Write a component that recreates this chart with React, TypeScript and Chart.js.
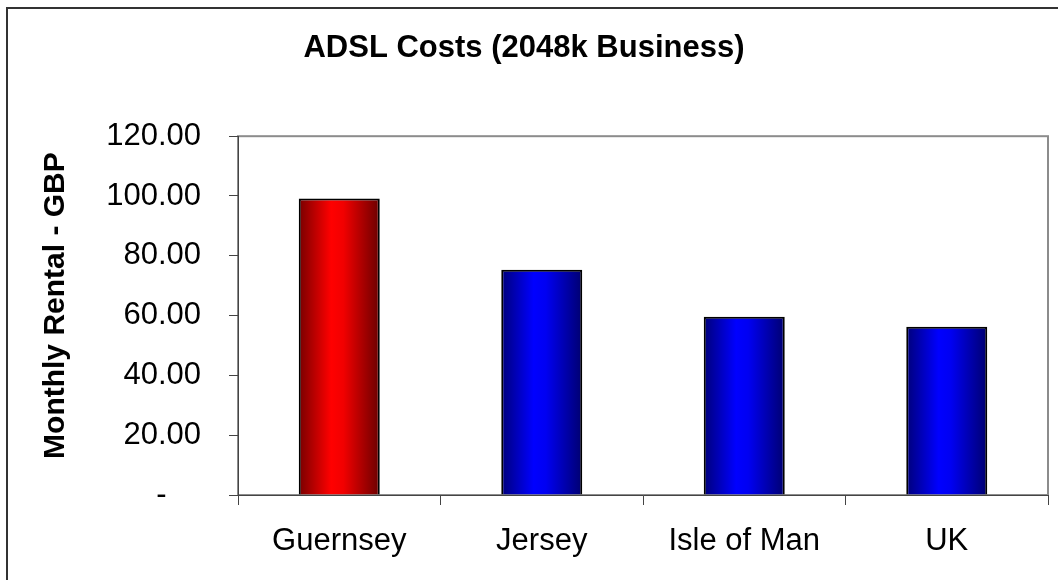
import React, { useEffect, useRef } from "react";
import { Chart, registerables } from "chart.js";

Chart.register(...registerables);

const categories = ["Guernsey", "Jersey", "Isle of Man", "UK"];
const rentalValues = [99.2, 75.3, 59.6, 56.3];
const barBaseColors = ["red", "blue", "blue", "blue"];
const chartTitle = "ADSL Costs (2048k Business)";
const yAxisTitle = "Monthly Rental - GBP";
const yMin = 0;
const yMax = 120;
const yStep = 20;

const FONT = '"Liberation Sans", Arial, Helvetica, sans-serif';

const gradientStops: Record<string, [number, string][]> = {
  red: [
    [0, "#780000"],
    [0.4, "#ff0000"],
    [0.55, "#f20000"],
    [1, "#6a0000"],
  ],
  blue: [
    [0, "#00007a"],
    [0.4, "#0000ff"],
    [0.55, "#0000f2"],
    [1, "#000070"],
  ],
};

const framePlugin = {
  id: "frame",
  beforeDraw(chart: any) {
    const { ctx, chartArea } = chart;
    ctx.save();
    // outer chart border
    ctx.strokeStyle = "#333333";
    ctx.lineWidth = 2;
    ctx.strokeRect(7, 8, chart.width + 20, chart.height + 20);
    // plot area border
    ctx.strokeStyle = "#8c8c8c";
    ctx.lineWidth = 2;
    ctx.strokeRect(
      chartArea.left,
      chartArea.top,
      chartArea.right - chartArea.left,
      chartArea.bottom - chartArea.top
    );
    ctx.restore();
  },
  afterDraw(chart: any) {
    const { ctx, chartArea } = chart;
    ctx.save();
    ctx.translate(56, (chartArea.top + chartArea.bottom) / 2 - 10);
    ctx.rotate(-Math.PI / 2);
    ctx.font = `bold 30px ${FONT}`;
    ctx.fillStyle = "#000";
    ctx.textAlign = "center";
    ctx.textBaseline = "middle";
    ctx.fillText(yAxisTitle, 0, 0);
    ctx.restore();
  },
};

export default function App() {
  const canvasRef = useRef<HTMLCanvasElement | null>(null);

  useEffect(() => {
    const canvas = canvasRef.current;
    if (!canvas) return;
    const barPct = 0.4;
    const chart = new Chart(canvas, {
      type: "bar",
      data: {
        labels: categories,
        datasets: [
          {
            data: rentalValues,
            borderColor: "#000",
            borderWidth: 2,
            categoryPercentage: 1,
            barPercentage: barPct,
            backgroundColor: (c: any) => {
              const ch = c.chart;
              const area = ch.chartArea;
              const base = barBaseColors[c.dataIndex] || "blue";
              if (!area || !ch.scales.x) return base;
              const x = ch.scales.x.getPixelForValue(c.dataIndex);
              const w = (area.width / categories.length) * barPct;
              const g = ch.ctx.createLinearGradient(x - w / 2, 0, x + w / 2, 0);
              for (const [o, col] of gradientStops[base]) g.addColorStop(o, col);
              return g;
            },
          },
        ],
      },
      options: {
        responsive: false,
        animation: false,
        layout: { padding: { left: 0, right: 10, top: 0, bottom: 0 } },
        plugins: {
          legend: { display: false },
          tooltip: { enabled: false },
          title: {
            display: true,
            text: chartTitle,
            color: "#000",
            font: { family: FONT, size: 31, weight: "bold", lineHeight: 1.2 },
            padding: { top: 30, bottom: 69 },
          },
        },
        scales: {
          x: {
            grid: {
              display: true,
              drawOnChartArea: false,
              drawTicks: true,
              tickLength: 10,
              color: "#444",
              offset: true,
            },
            border: { display: true, color: "#444", width: 1 },
            ticks: {
              color: "#000",
              padding: 18,
              font: { family: FONT, size: 31, lineHeight: 1.2 },
              maxRotation: 0,
              autoSkip: false,
            },
            afterFit: (s: any) => {
              s.height = 85;
            },
          },
          y: {
            min: yMin,
            max: yMax,
            grid: {
              display: true,
              drawOnChartArea: false,
              drawTicks: true,
              tickLength: 9,
              color: "#444",
            },
            border: { display: true, color: "#444", width: 1 },
            ticks: {
              stepSize: yStep,
              color: "#000",
              padding: 28,
              font: { family: FONT, size: 31, lineHeight: 1.2 },
              callback: (v: any) => (Number(v) === 0 ? "-    " : Number(v).toFixed(2)),
            },
            afterFit: (s: any) => {
              s.width = 238;
            },
          },
        },
      },
      plugins: [framePlugin],
    } as any);
    return () => chart.destroy();
  }, []);

  return (
    <div style={{ position: "absolute", left: 0, top: 0, width: 1058, height: 580, background: "#fff" }}>
      <canvas ref={canvasRef} width={1058} height={580} style={{ display: "block" }} />
    </div>
  );
}
